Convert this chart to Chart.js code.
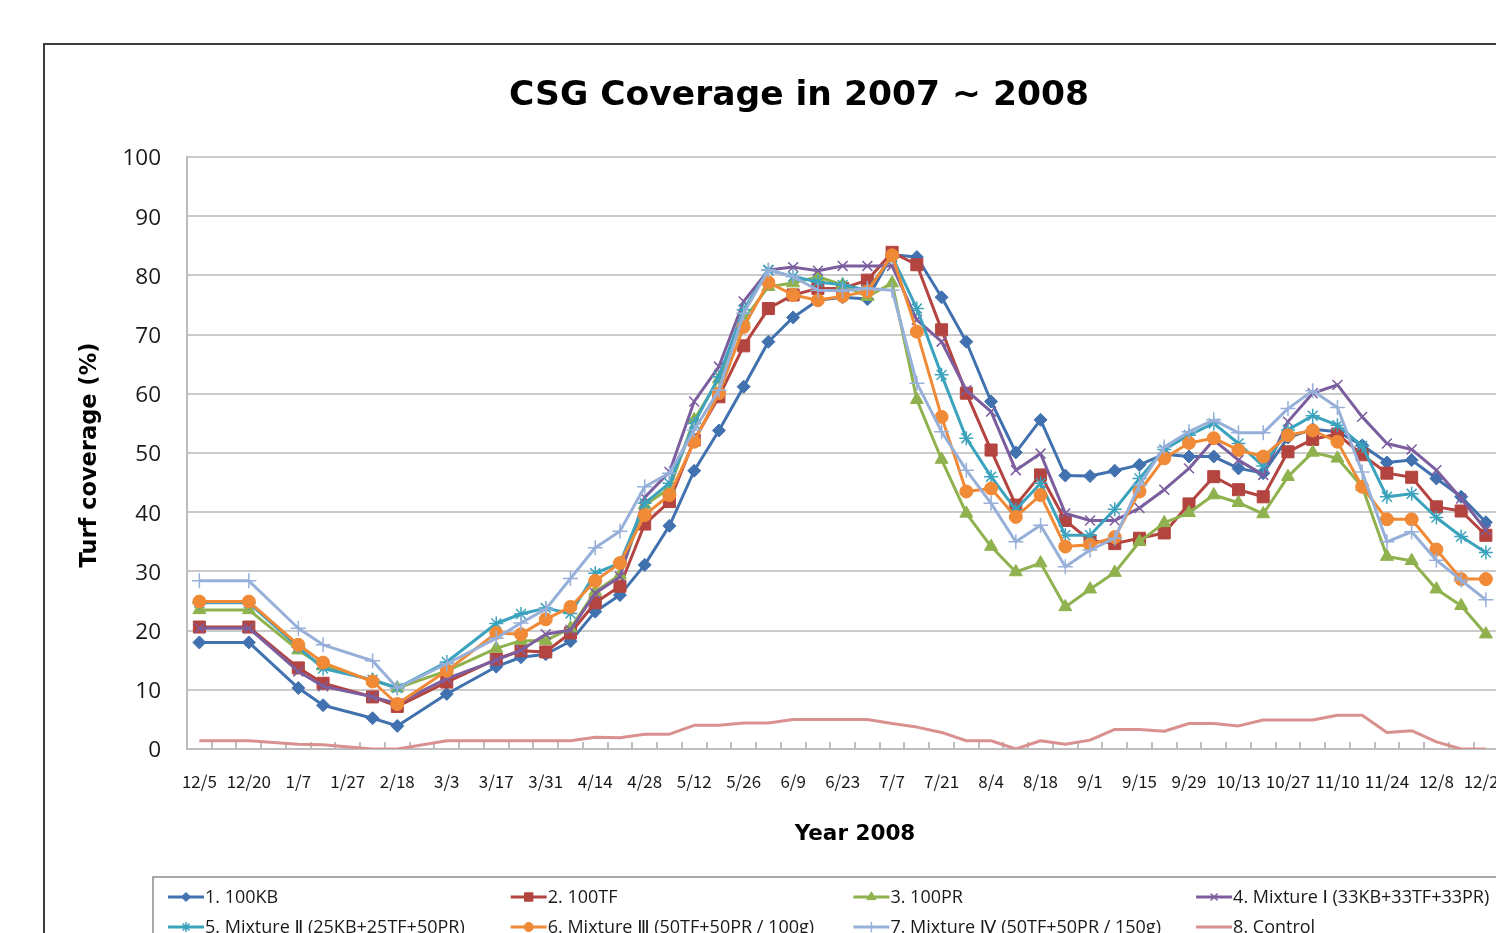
<!DOCTYPE html>
<html>
<head>
<meta charset="utf-8">
<title>CSG Coverage in 2007 ~ 2008</title>
<script src="https://cdn.jsdelivr.net/npm/chart.js@4.4.1/dist/chart.umd.min.js"></script>
<style>
  html, body { margin: 0; padding: 0; background: #fff; width: 1496px; height: 933px; overflow: hidden; }
  #frame { position: absolute; left: 43px; top: 43px; width: 1510px; height: 1000px; border: 2px solid #3c3c3c; background: #fff; }
  #chart { position: absolute; left: 0; top: 0; }
</style>
</head>
<body>
<div id="frame"><canvas id="chart" width="1508" height="960"></canvas></div>
<script>
// Weekly sampling slots; a date label is printed on every second slot.
const tickLabels = ['12/5','12/20','1/7','1/27','2/18','3/3','3/17','3/31','4/14','4/28',
  '5/12','5/26','6/9','6/23','7/7','7/21','8/4','8/18','9/1','9/15','9/29','10/13',
  '10/27','11/10','11/24','12/8','12/22'];
const categories = [];
tickLabels.forEach(t => { categories.push(t); categories.push(''); });

// Turf coverage (%) per treatment; null = no survey in that week.
const kb100 = [18.0,null,18.0,null,10.3,7.4,null,5.2,3.9,null,9.3,null,13.9,15.5,16.0,18.2,23.2,26.0,31.1,37.7,
  47.0,53.8,61.2,68.8,72.9,75.8,76.3,76.0,83.5,83.1,76.3,68.8,58.7,50.1,55.6,46.2,46.1,47.0,48.0,49.8,
  49.4,49.4,47.4,46.6,52.6,54.0,53.6,51.3,48.4,48.8,45.7,42.6,38.3];
const tf100 = [20.6,null,20.6,null,13.7,11.1,null,8.8,7.2,null,11.3,null,15.2,16.6,16.4,19.6,24.7,27.5,38.0,41.8,
  52.2,59.5,68.1,74.4,76.7,77.8,77.8,79.2,83.9,81.8,70.8,60.1,50.5,41.2,46.3,38.6,35.2,34.7,35.6,36.5,
  41.4,46.0,43.8,42.6,50.2,52.3,53.2,49.7,46.6,45.9,40.9,40.2,36.1];
const pr100 = [23.5,null,23.5,null,16.7,14.0,null,11.6,10.3,null,13.2,null,17.0,18.3,18.3,20.4,26.6,29.4,41.2,44.0,
  55.6,62.5,72.5,78.1,78.7,79.8,78.4,76.4,78.7,59.0,48.9,39.8,34.2,29.9,31.4,24.0,27.0,29.8,35.0,38.2,
  39.9,42.9,41.6,39.7,46.0,50.1,49.1,44.3,32.5,31.8,27.0,24.2,19.4];
const mixture1 = [20.4,null,20.4,null,13.1,10.6,null,8.8,7.7,null,11.9,null,15.0,16.7,19.4,20.1,26.3,29.1,42.5,46.8,
  58.7,64.6,75.6,80.9,81.4,80.8,81.6,81.6,81.6,72.5,68.8,60.6,57.0,47.1,49.9,39.8,38.6,38.6,40.7,43.8,
  47.4,52.2,48.8,46.3,55.3,60.1,61.5,56.1,51.6,50.6,47.1,42.3,37.0];
const mixture2 = [24.7,null,24.7,null,17.2,13.6,null,11.7,10.3,null,14.7,null,21.2,22.8,23.8,22.9,29.7,31.4,41.5,44.9,
  55.0,62.9,74.2,80.9,79.8,78.9,78.4,77.5,83.2,74.4,63.2,52.5,46.0,40.4,44.9,36.1,36.1,40.5,45.7,50.6,
  53.0,55.0,51.6,47.8,53.9,56.3,54.7,51.2,42.6,43.1,39.1,35.9,33.2];
const mixture3 = [24.9,null,24.9,null,17.6,14.6,null,11.4,7.6,null,13.2,null,19.6,19.4,21.9,24.0,28.4,31.4,39.5,42.9,
  51.9,60.1,71.3,78.8,76.7,75.8,76.5,77.3,83.4,70.5,56.1,43.5,44.0,39.2,42.9,34.2,34.5,35.8,43.5,49.1,
  51.7,52.5,50.5,49.4,53.0,53.8,51.9,44.3,38.8,38.8,33.7,28.7,28.7];
const mixture4 = [28.4,null,28.4,null,20.4,17.6,null,14.9,10.3,null,14.4,null,18.7,21.3,23.6,28.8,34.0,36.8,44.3,46.6,
  53.9,60.6,73.6,80.9,79.8,77.5,77.4,77.8,77.5,61.8,53.6,47.1,41.5,35.0,37.8,30.8,33.6,35.6,44.6,51.0,
  53.6,55.6,53.4,53.4,57.5,60.5,57.7,46.8,35.0,36.7,31.9,28.5,25.2];
const control = [1.4,null,1.4,null,0.8,0.7,null,0.0,0.0,null,1.4,null,1.4,1.4,1.4,1.4,2.0,1.9,2.5,2.5,
  4.0,4.0,4.4,4.4,5.0,5.0,5.0,5.0,4.3,3.7,2.8,1.4,1.4,0.0,1.4,0.8,1.5,3.3,3.3,3.0,
  4.3,4.3,3.9,4.9,4.9,4.9,5.7,5.7,2.8,3.1,1.2,0.0,0.0];

const seriesNames = ['1. 100KB','2. 100TF','3. 100PR','4. Mixture Ⅰ (33KB+33TF+33PR)',
  '5. Mixture Ⅱ (25KB+25TF+50PR)','6. Mixture Ⅲ (50TF+50PR / 100g)',
  '7. Mixture Ⅳ (50TF+50PR / 150g)','8. Control'];
const seriesData = [kb100, tf100, pr100, mixture1, mixture2, mixture3, mixture4, control];

// Line colours and marker shapes for each treatment.
const seriesColors = ['#4172AF','#B3443F','#8FB24E','#7C5E9F','#3BA3BD','#F08A36','#97B0D9','#D8918F'];
const markerStyles = ['rectRot','rect','triangle','crossRot','star','circle','cross',false];
const markerRadius = [6.5, 8.5, 7.5, 7, 7, 6.5, 7.5, 0];
const markerBorder = [1, 1, 1, 1.5, 1.5, 1, 1.5, 0];

const FONT = '"Open Sans", "DejaVu Sans", "Noto Sans CJK KR", sans-serif';
const TICK_FONT = '"Noto Sans CJK KR", "Noto Sans", sans-serif';
const HEAD_FONT = '"DejaVu Sans", "Noto Sans CJK KR", sans-serif';
const TEXT = '#1a1a1a';

const datasets = seriesData.map((d, i) => ({
  label: seriesNames[i],
  data: d,
  borderColor: seriesColors[i],
  backgroundColor: seriesColors[i],
  borderWidth: 3,
  tension: 0,
  spanGaps: true,
  pointStyle: markerStyles[i],
  pointRadius: markerRadius[i],
  pointBorderWidth: markerBorder[i],
  pointBackgroundColor: seriesColors[i],
  pointBorderColor: seriesColors[i],
  order: seriesData.length - i
}));

// Titles, inward category tick marks and the boxed legend.
const decor = {
  id: 'decor',
  beforeDatasetsDraw(chart) {
    const { ctx, chartArea } = chart;
    const x = chart.scales.x;
    const n = categories.length;
    const step = x.getPixelForValue(1) - x.getPixelForValue(0);
    ctx.save();
    ctx.strokeStyle = '#bdbdbd';
    ctx.lineWidth = 2;
    ctx.beginPath();
    for (let i = 0; i <= n; i++) {
      const px = Math.round(x.getPixelForValue(0) - step / 2 + i * step);
      ctx.moveTo(px, chartArea.bottom - 7);
      ctx.lineTo(px, chartArea.bottom);
    }
    ctx.stroke();
    ctx.restore();
  },
  afterDraw(chart) {
    const { ctx, chartArea } = chart;
    ctx.save();
    ctx.fillStyle = '#000';
    ctx.textAlign = 'center';
    ctx.textBaseline = 'middle';
    ctx.font = 'bold 34.5px ' + HEAD_FONT;
    ctx.fillText('CSG Coverage in 2007 ~ 2008', chart.width / 2, 51);

    ctx.font = 'bold 21.5px ' + HEAD_FONT;
    ctx.fillText('Year 2008', (chartArea.left + chartArea.right) / 2, 789);

    ctx.save();
    ctx.translate(45, 410);
    ctx.rotate(-Math.PI / 2);
    ctx.font = 'bold 22.5px ' + HEAD_FONT;
    ctx.fillText('Turf coverage (%)', 0, 0);
    ctx.restore();

    // legend box
    const box = { left: 108, top: 832, right: 1486, bottom: 958 };
    ctx.strokeStyle = '#8c8c8c';
    ctx.lineWidth = 1.5;
    ctx.strokeRect(box.left, box.top, box.right - box.left, box.bottom - box.top);

    const colX = [123, 465.7, 808.4, 1151.1];
    const rowY = [852, 882];
    ctx.font = '18px ' + FONT;
    ctx.textAlign = 'left';
    chart.data.datasets.forEach((ds, i) => {
      const cx = colX[i % 4];
      const cy = rowY[Math.floor(i / 4)];
      ctx.strokeStyle = ds.borderColor;
      ctx.lineWidth = 3;
      ctx.beginPath();
      ctx.moveTo(cx, cy);
      ctx.lineTo(cx + 36, cy);
      ctx.stroke();
      if (ds.pointStyle) {
        ctx.fillStyle = ds.pointBackgroundColor;
        ctx.strokeStyle = ds.pointBorderColor;
        ctx.lineWidth = ds.pointBorderWidth;
        Chart.helpers.drawPoint(ctx, {
          pointStyle: ds.pointStyle,
          radius: ds.pointRadius * 0.7,
          borderWidth: ds.pointBorderWidth,
          rotation: 0
        }, cx + 18, cy);
      }
      ctx.fillStyle = TEXT;
      ctx.fillText(ds.label, cx + 37, cy + 1);
    });
    ctx.restore();
  }
};

new Chart(document.getElementById('chart'), {
  type: 'line',
  data: { labels: categories, datasets },
  options: {
    responsive: false,
    animation: false,
    devicePixelRatio: 1,
    layout: { padding: { left: 0, top: 112, right: 30, bottom: 0 } },
    plugins: {
      legend: { display: false },
      title: { display: false },
      tooltip: { enabled: false }
    },
    elements: { line: { borderJoinStyle: 'round' } },
    scales: {
      x: {
        type: 'category',
        offset: true,
        grid: { display: false, offset: true },
        border: { display: true, color: '#bdbdbd', width: 2 },
        ticks: {
          autoSkip: false, maxRotation: 0, minRotation: 0, padding: 14,
          color: TEXT, font: { family: TICK_FONT, size: 17 },
          callback: (v, i) => categories[i]
        },
        afterFit: s => { s.height = 256; }
      },
      y: {
        min: 0, max: 100,
        grid: { color: '#cbcbcb', lineWidth: 2, drawTicks: false },
        border: { display: true, color: '#bdbdbd', width: 2 },
        ticks: { stepSize: 10, padding: 26, labelOffset: 2, color: TEXT, font: { family: FONT, size: 22.5 } },
        afterFit: s => { s.width = 142; }
      }
    }
  },
  plugins: [decor]
});
</script>
</body>
</html>
